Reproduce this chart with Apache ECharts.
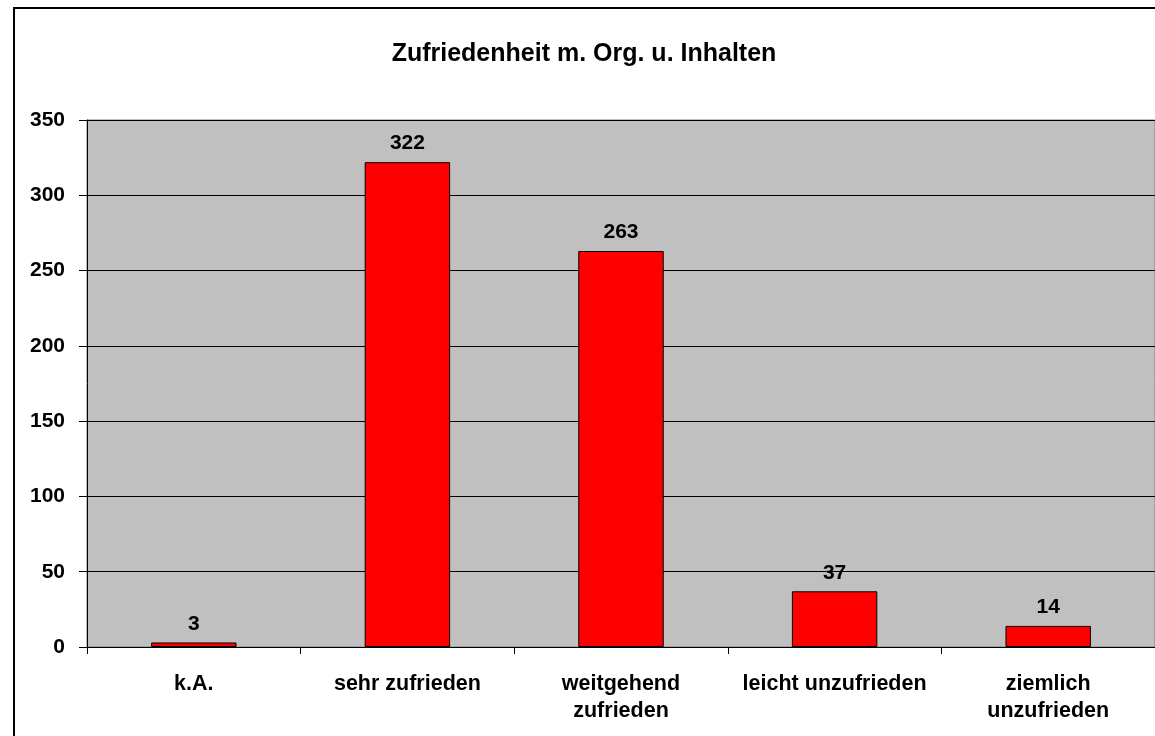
<!DOCTYPE html>
<html><head><meta charset="utf-8">
<script src="https://cdn.jsdelivr.net/npm/echarts@6/dist/echarts.min.js"></script>
<style>html,body{margin:0;padding:0;background:#fff}#c{width:1155px;height:736px}</style>
</head><body><div id="c"></div>
<script>
var categories = ['k.A.', 'sehr zufrieden', 'weitgehend\nzufrieden', 'leicht unzufrieden', 'ziemlich\nunzufrieden'];
var values = [3, 322, 263, 37, 14];
var yTicks = [0, 50, 100, 150, 200, 250, 300, 350];
var titleText = 'Zufriedenheit m. Org. u. Inhalten';

var chart = echarts.init(document.getElementById('c'));
var ff = '"Liberation Sans", Arial, sans-serif';
chart.setOption({
  animation: false,
  backgroundColor: '#fff',
  title: { text: titleText, left: 579, textAlign: 'center', top: 37,
    textStyle: { fontFamily: ff, fontWeight: 'bold', fontSize: 25, color: '#000' } },
  graphic: [{ type: 'rect', shape: { x: 14, y: 8, width: 1200, height: 800 },
    style: { fill: 'none', stroke: '#000', lineWidth: 2 }, z: 100 }],
  grid: { left: 87, top: 120, width: 1076, height: 527, show: true,
    backgroundColor: '#c0c0c0', borderColor: '#808080', borderWidth: 1 },
  xAxis: { type: 'category', data: categories,
    axisLine: { lineStyle: { color: '#000', width: 1 } },
    axisTick: { show: true, length: 7, lineStyle: { color: '#000' } },
    axisLabel: { margin: 24, fontFamily: ff, fontWeight: 'bold', fontSize: 21.5, color: '#000', lineHeight: 27, interval: 0 } },
  yAxis: { type: 'value', min: 0, max: 350, interval: 50,
    axisLine: { show: true, lineStyle: { color: '#000', width: 1 } },
    axisTick: { show: true, length: 8, lineStyle: { color: '#000' } },
    splitLine: { lineStyle: { color: '#000', width: 1 } },
    axisLabel: { margin: 22, fontFamily: ff, fontWeight: 'bold', fontSize: 21, color: '#000',
      formatter: function (v) { return yTicks.indexOf(v) >= 0 ? String(v) : ''; } } },
  series: [{ type: 'bar', data: values, barWidth: '40%',
    itemStyle: { color: '#ff0000', borderColor: '#000', borderWidth: 1 },
    label: { show: true, position: 'top', distance: 8, fontFamily: ff, fontWeight: 'bold', fontSize: 21, color: '#000' } }]
});
</script></body></html>
